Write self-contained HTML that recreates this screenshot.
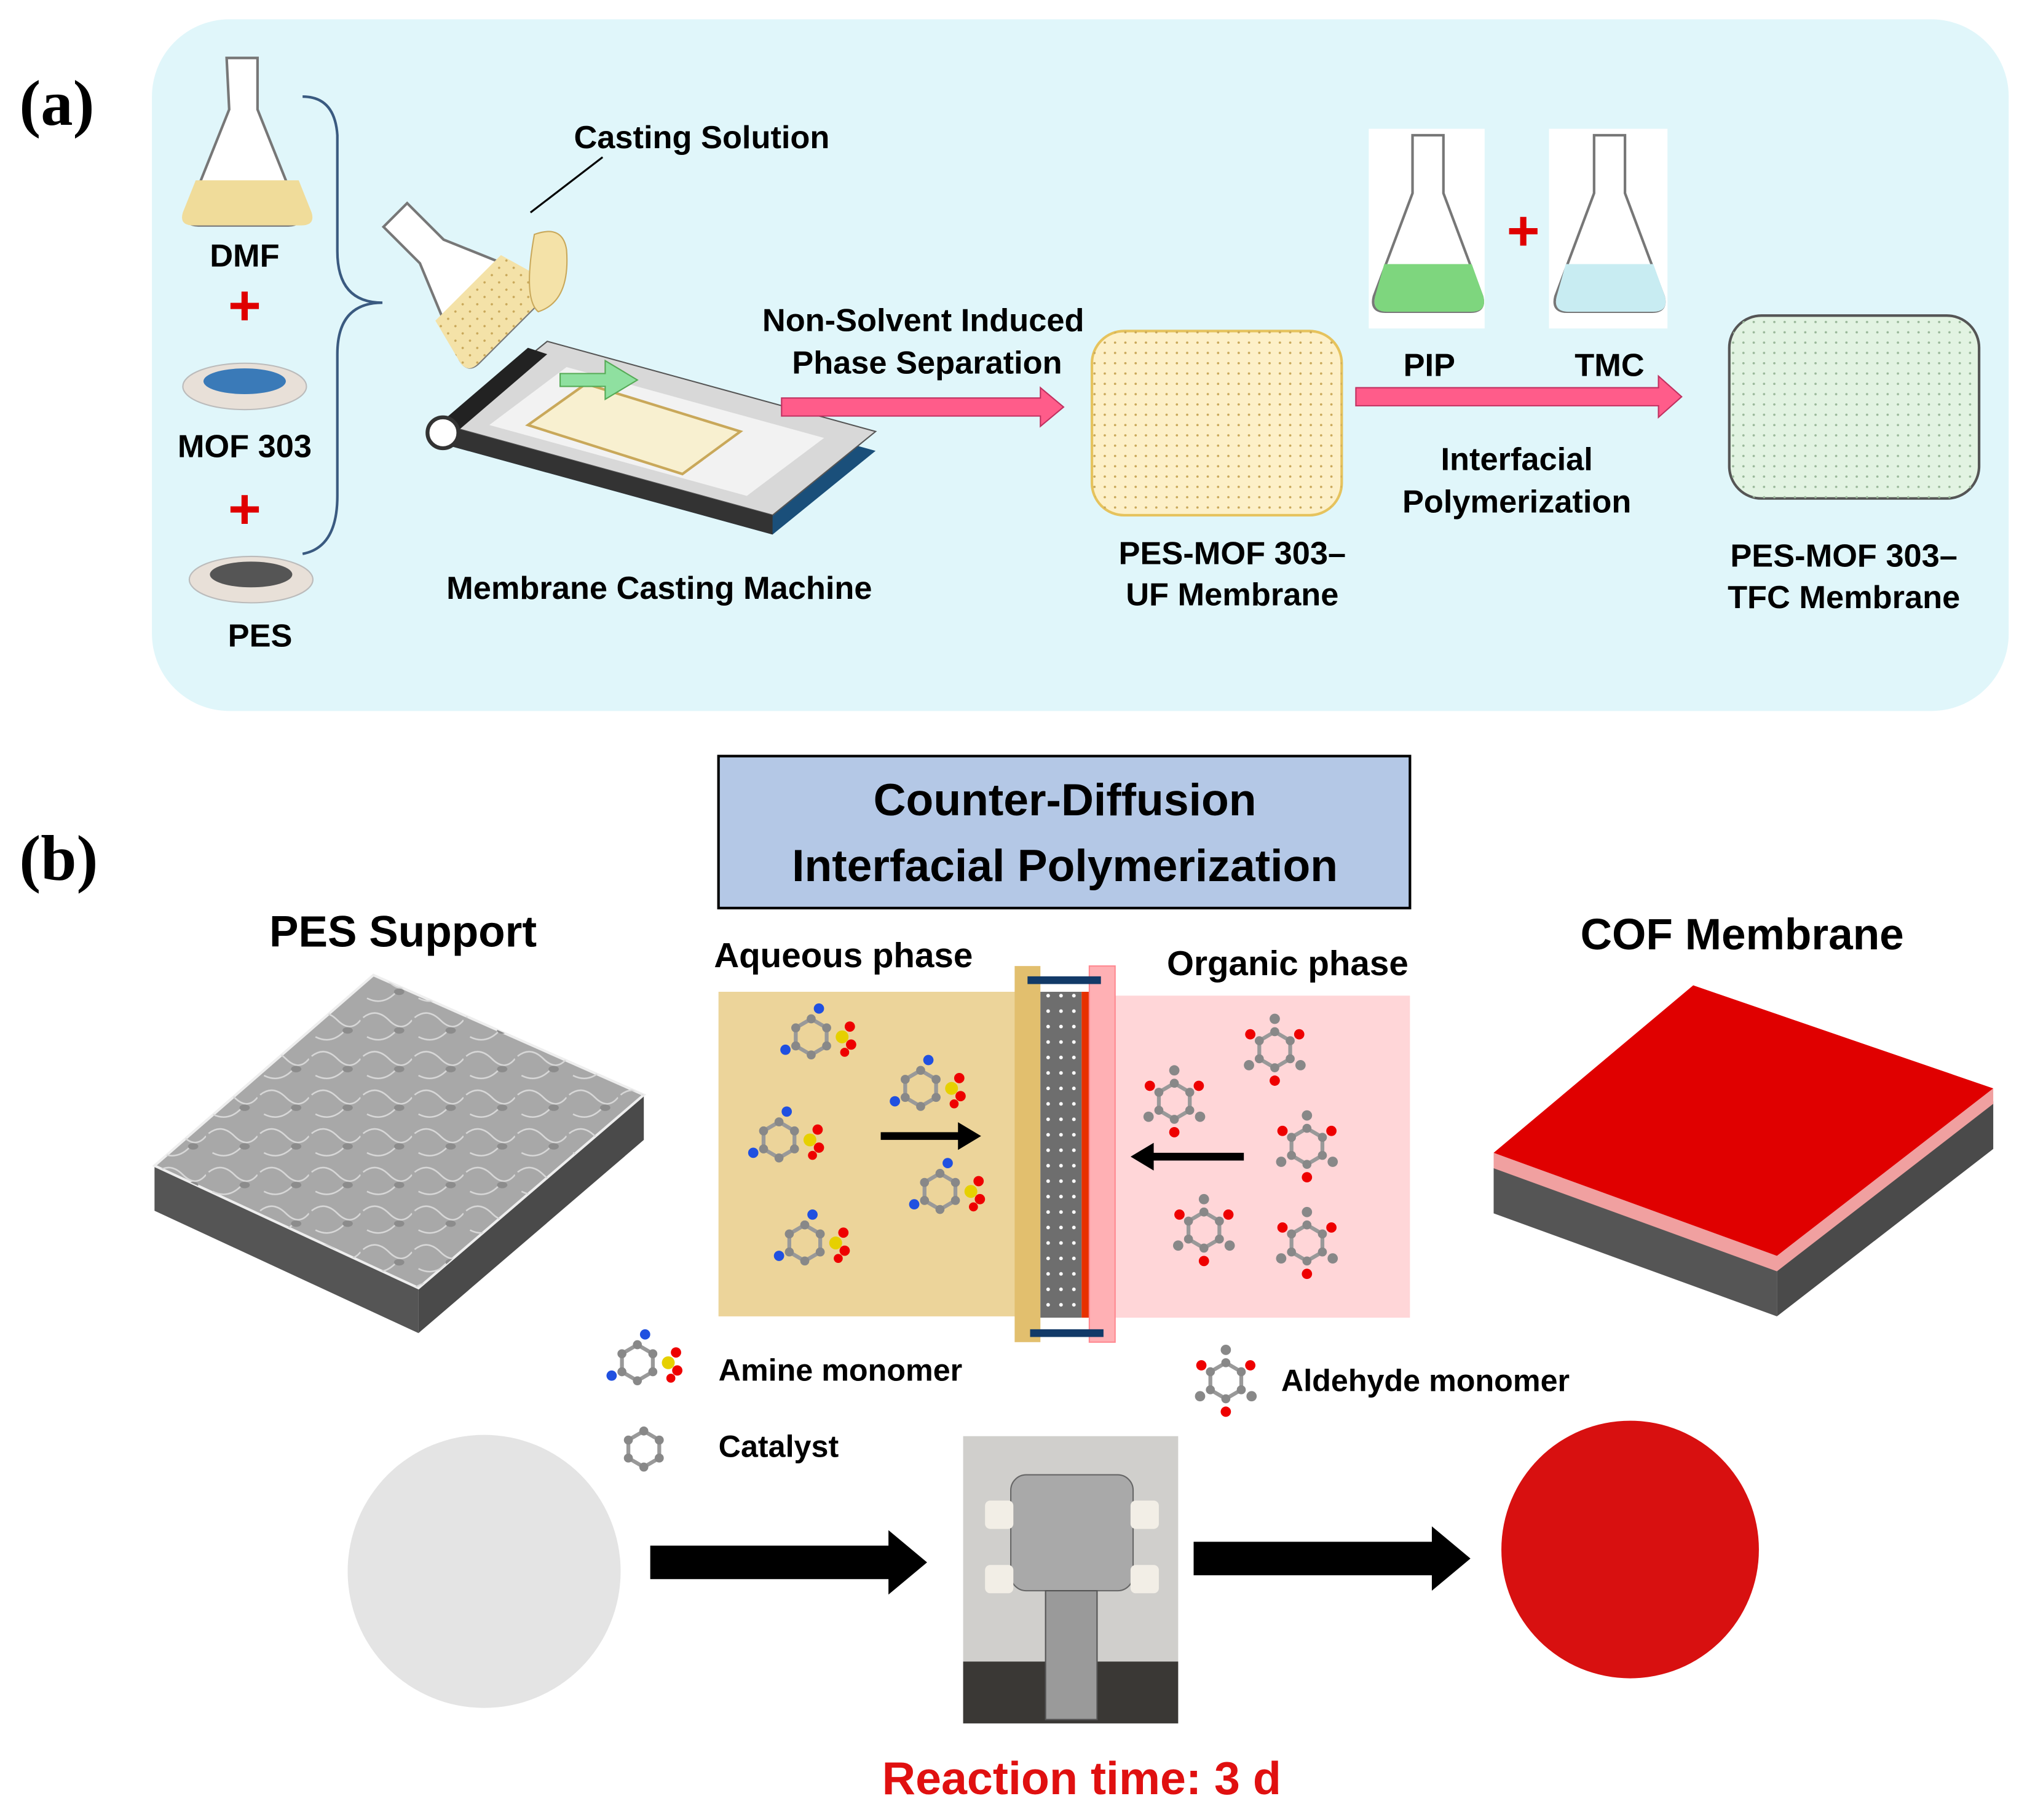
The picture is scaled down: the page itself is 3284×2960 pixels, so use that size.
<!DOCTYPE html>
<html><head><meta charset="utf-8"><style>html,body{margin:0;padding:0;background:#fff}svg{display:block}</style></head>
<body>
<svg width="3284" height="2960" viewBox="0 0 1568 1413" preserveAspectRatio="none" xmlns="http://www.w3.org/2000/svg" font-family="Liberation Sans, sans-serif" font-weight="bold">
<defs>
<pattern id="dots" width="8" height="8" patternUnits="userSpaceOnUse"><circle cx="2" cy="2" r="0.9" fill="#c9a85a"/></pattern>
<pattern id="gdots" width="8" height="8" patternUnits="userSpaceOnUse"><circle cx="2" cy="2" r="0.9" fill="#9ab89a"/></pattern>
<pattern id="wdots" width="10" height="12" patternUnits="userSpaceOnUse"><circle cx="4" cy="5" r="1.4" fill="#fff"/></pattern>
<pattern id="fib" width="40" height="30" patternUnits="userSpaceOnUse"><path d="M2,10 q10,-8 20,2 t18,0 M5,25 q12,6 22,-4" fill="none" stroke="#d8d8d8" stroke-width="1.2"/><ellipse cx="30" cy="20" rx="4" ry="2.5" fill="#8c8c8c"/></pattern>
<g id="ring"><polygon points="0,-14 12,-7 12,7 0,14 -12,7 -12,-7" fill="none" stroke="#999" stroke-width="3"/><g fill="#888"><circle cx="0" cy="-14" r="3.5"/><circle cx="12" cy="-7" r="3.5"/><circle cx="12" cy="7" r="3.5"/><circle cx="0" cy="14" r="3.5"/><circle cx="-12" cy="7" r="3.5"/><circle cx="-12" cy="-7" r="3.5"/></g></g>
<g id="ald"><use href="#ring"/><circle cx="0" cy="-24" r="4" fill="#888"/><circle cx="-19" cy="-12" r="4" fill="#e00"/><circle cx="19" cy="-12" r="4" fill="#e00"/><circle cx="0" cy="24" r="4" fill="#e00"/><circle cx="-20" cy="12" r="4" fill="#888"/><circle cx="20" cy="12" r="4" fill="#888"/></g>
<g id="amn"><use href="#ring"/><circle cx="24" cy="0" r="5" fill="#e6d000"/><circle cx="30" cy="-8" r="4" fill="#e00"/><circle cx="31" cy="6" r="4" fill="#e00"/><circle cx="26" cy="12" r="3.5" fill="#e00"/><circle cx="-20" cy="10" r="4" fill="#2050e0"/><circle cx="6" cy="-22" r="4" fill="#2050e0"/></g>
</defs>

<text x="15" y="97" font-family="Liberation Serif, serif" font-size="50">(a)</text>
<rect x="118" y="15" width="1442" height="537" rx="60" fill="#e0f6fa"/>

<g>
<path d="M176,45 h24 v40 l32,80 q3,10 -8,10 h-70 q-11,0 -8,-10 l32,-80z" fill="#fff" stroke="#777" stroke-width="2"/>
<path d="M152,140 h80 l10,25 q3,10 -8,10 h-84 q-11,0 -8,-10z" fill="#f0dc9a"/>
</g>
<text x="190" y="207" font-size="25" text-anchor="middle">DMF</text>
<text x="190" y="252" font-size="44" fill="#e00000" text-anchor="middle">+</text>
<ellipse cx="190" cy="300" rx="48" ry="18" fill="#e8e0d8" stroke="#bbb"/><ellipse cx="190" cy="296" rx="32" ry="10" fill="#3a7ab8"/>
<text x="190" y="355" font-size="25" text-anchor="middle">MOF 303</text>
<text x="190" y="410" font-size="44" fill="#e00000" text-anchor="middle">+</text>
<ellipse cx="195" cy="450" rx="48" ry="18" fill="#e8e0d8" stroke="#bbb"/><ellipse cx="195" cy="446" rx="32" ry="10" fill="#555"/>
<text x="202" y="502" font-size="25" text-anchor="middle">PES</text>
<path d="M235,75 q25,0 27,30 v90 q0,40 35,40 M297,235 q-35,0 -35,40 v110 q0,40 -27,45" fill="none" stroke="#3a5a80" stroke-width="2"/>

<g transform="rotate(-45 365 215)">
<path d="M345,140 h26 v40 l32,75 q3,12 -10,12 h-70 q-12,0 -9,-12 l31,-75z" fill="#fff" stroke="#777" stroke-width="2"/>
<path d="M322,220 h72 l10,35 q3,12 -10,12 h-72 q-12,0 -9,-12z" fill="#f4e2a8"/><path d="M322,220 h72 l10,35 q3,12 -10,12 h-72 q-12,0 -9,-12z" fill="url(#dots)"/>
</g>
<path d="M415,182 q22,-8 25,12 q3,40 -22,48 q-12,-10 -3,-60z" fill="#f4e2a8" stroke="#c9a85a"/>
<text x="545" y="115" font-size="25" text-anchor="middle">Casting Solution</text>
<line x1="468" y1="122" x2="412" y2="165" stroke="#000" stroke-width="1.5"/>

<polygon points="345,345 425,280 680,350 600,415" fill="#1a4f7a"/>
<polygon points="345,330 425,265 680,335 600,400" fill="#d8d8d8" stroke="#555"/>
<polygon points="380,330 440,285 640,340 580,385" fill="#f2f2f2"/>
<polygon points="410,330 455,298 575,335 530,368" fill="#f8f0d0" stroke="#c9a85a" stroke-width="2"/>
<polygon points="345,330 600,400 600,415 345,345" fill="#333"/>
<polygon points="340,330 410,270 425,275 355,335" fill="#222"/>
<circle cx="344" cy="336" r="12" fill="#fff" stroke="#333" stroke-width="3"/>
<polygon points="435,290 470,290 470,280 495,295 470,310 470,300 435,300" fill="#8fe0a0" stroke="#5a5"/>
<text x="512" y="465" font-size="25" text-anchor="middle">Membrane Casting Machine</text>

<text x="717" y="257" font-size="25" text-anchor="middle">Non-Solvent Induced</text>
<text x="720" y="290" font-size="25" text-anchor="middle">Phase Separation</text>
<polygon points="607,309 808,309 808,301 826,316 808,331 808,323 607,323" fill="#ff5c8a" stroke="#c03060"/>

<rect x="848" y="257" width="194" height="143" rx="25" fill="#fdf0c8" stroke="#e6c35d" stroke-width="2"/>
<rect x="848" y="257" width="194" height="143" rx="25" fill="url(#dots)"/>
<text x="957" y="438" font-size="25" text-anchor="middle">PES-MOF 303–</text>
<text x="957" y="470" font-size="25" text-anchor="middle">UF Membrane</text>

<rect x="1063" y="100" width="90" height="155" fill="#fff"/>
<path d="M1097,105 h24 v45 l30,80 q3,12 -9,12 h-66 q-12,0 -9,-12 l30,-80z" fill="#fff" stroke="#777" stroke-width="2"/>
<path d="M1075,205 h68 l9,25 q3,12 -9,12 h-66 q-12,0 -9,-12z" fill="#7ed67e"/>
<text x="1183" y="194" font-size="44" fill="#e00000" text-anchor="middle">+</text>
<rect x="1203" y="100" width="92" height="155" fill="#fff"/>
<path d="M1238,105 h24 v45 l30,80 q3,12 -9,12 h-66 q-12,0 -9,-12 l30,-80z" fill="#fff" stroke="#777" stroke-width="2"/>
<path d="M1216,205 h68 l9,25 q3,12 -9,12 h-66 q-12,0 -9,-12z" fill="#c8ecf2"/>
<text x="1110" y="292" font-size="25" text-anchor="middle">PIP</text>
<text x="1250" y="292" font-size="25" text-anchor="middle">TMC</text>
<polygon points="1053,301 1288,301 1288,292 1306,308 1288,324 1288,315 1053,315" fill="#ff5c8a" stroke="#c03060"/>
<text x="1178" y="365" font-size="25" text-anchor="middle">Interfacial</text>
<text x="1178" y="398" font-size="25" text-anchor="middle">Polymerization</text>

<rect x="1343" y="245" width="194" height="142" rx="25" fill="#e2f3e2" stroke="#555" stroke-width="2"/>
<rect x="1343" y="245" width="194" height="142" rx="25" fill="url(#gdots)"/>
<text x="1432" y="440" font-size="25" text-anchor="middle">PES-MOF 303–</text>
<text x="1432" y="472" font-size="25" text-anchor="middle">TFC Membrane</text>

<text x="15" y="683" font-family="Liberation Serif, serif" font-size="50">(b)</text>
<rect x="558" y="587" width="537" height="118" fill="#b4c8e6" stroke="#000" stroke-width="2"/>
<text x="827" y="633" font-size="35" text-anchor="middle">Counter-Diffusion</text>
<text x="827" y="684" font-size="35" text-anchor="middle">Interfacial Polymerization</text>

<text x="313" y="735" font-size="34" text-anchor="middle">PES Support</text>
<text x="1353" y="737" font-size="34" text-anchor="middle">COF Membrane</text>

<polygon points="120,905 325,1000 325,1035 120,940" fill="#555"/>
<polygon points="325,1000 500,850 500,885 325,1035" fill="#4a4a4a"/>
<polygon points="120,905 290,757 500,850 325,1000" fill="#a8a8a8" stroke="#eee" stroke-width="2"/>
<polygon points="120,905 290,757 500,850 325,1000" fill="url(#fib)"/>

<polygon points="1160,905 1380,985 1380,1022 1160,942" fill="#555"/>
<polygon points="1380,985 1548,855 1548,892 1380,1022" fill="#4a4a4a"/>
<polygon points="1160,895 1380,975 1548,845 1548,857 1380,987 1160,907" fill="#f0a0a0"/>
<polygon points="1160,895 1315,765 1548,845 1380,975" fill="#e00000"/>

<text x="655" y="751" font-size="27" text-anchor="middle">Aqueous phase</text>
<text x="1000" y="757" font-size="27" text-anchor="middle">Organic phase</text>
<rect x="558" y="770" width="232" height="252" fill="#ecd49a"/>
<rect x="862" y="773" width="233" height="250" fill="#ffd6d8"/>
<rect x="788" y="750" width="20" height="292" fill="#e2bf6e"/>
<rect x="808" y="770" width="32" height="253" fill="#6e6e6e"/>
<rect x="808" y="770" width="32" height="253" fill="url(#wdots)"/>
<rect x="840" y="770" width="6" height="253" fill="#e83000"/>
<rect x="846" y="750" width="20" height="292" fill="#ffb0b4" stroke="#ff8890"/>
<rect x="798" y="758" width="57" height="6" fill="#123a68"/>
<rect x="800" y="1032" width="57" height="6" fill="#123a68"/>
<polygon points="685,880 745,880 745,873 760,882 745,891 745,884 685,884" fill="#000" stroke="#000" stroke-width="2"/>
<polygon points="965,896 895,896 895,889 880,898 895,907 895,900 965,900" fill="#000" stroke="#000" stroke-width="2"/>
<use href="#amn" x="630" y="805"/><use href="#amn" x="715" y="845"/><use href="#amn" x="605" y="885"/><use href="#amn" x="730" y="925"/><use href="#amn" x="625" y="965"/>
<use href="#ald" x="990" y="815"/><use href="#ald" x="912" y="855"/><use href="#ald" x="1015" y="890"/><use href="#ald" x="935" y="955"/><use href="#ald" x="1015" y="965"/>

<use href="#amn" x="495" y="1058"/><use href="#ring" x="500" y="1125"/>
<text x="558" y="1072" font-size="24">Amine monomer</text>
<text x="558" y="1131" font-size="24">Catalyst</text>
<use href="#ald" x="952" y="1072"/>
<text x="995" y="1080" font-size="24">Aldehyde monomer</text>

<circle cx="376" cy="1220" r="106" fill="#e4e4e4"/>
<polygon points="505,1200 690,1200 690,1188 720,1213 690,1238 690,1226 505,1226" fill="#000"/>
<rect x="748" y="1115" width="167" height="223" fill="#d0cfcc"/>
<rect x="748" y="1290" width="167" height="48" fill="#3a3835"/>
<rect x="785" y="1145" width="95" height="90" rx="12" fill="#a9a9a9" stroke="#666"/>
<rect x="765" y="1165" width="22" height="22" rx="4" fill="#f2eee6"/><rect x="878" y="1165" width="22" height="22" rx="4" fill="#f2eee6"/>
<rect x="765" y="1215" width="22" height="22" rx="4" fill="#f2eee6"/><rect x="878" y="1215" width="22" height="22" rx="4" fill="#f2eee6"/>
<rect x="812" y="1235" width="40" height="100" fill="#9a9a9a" stroke="#555"/>
<polygon points="927,1197 1112,1197 1112,1185 1142,1210 1112,1235 1112,1223 927,1223" fill="#000"/>
<circle cx="1266" cy="1203" r="100" fill="#d81010"/>
<text x="840" y="1393" font-size="36" fill="#e01010" text-anchor="middle">Reaction time: 3 d</text>
</svg>
</body></html>
